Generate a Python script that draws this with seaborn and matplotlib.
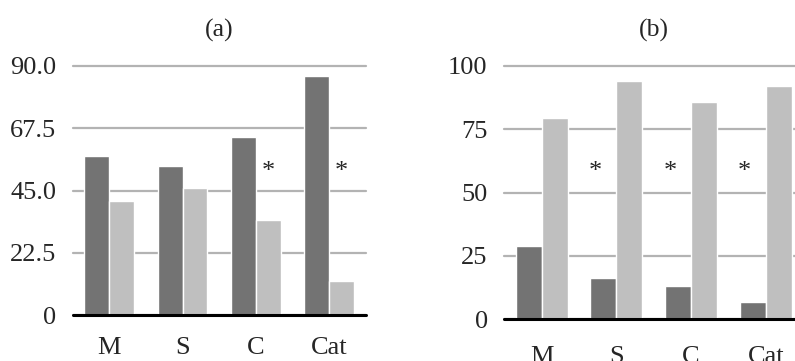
import numpy as np
import pandas as pd
import seaborn as sns
import matplotlib.pyplot as plt

# values
categories = ["M", "S", "C", "Cat"]
series_names = ["Series 1", "Series 2"]
a_dark = [57.5, 53.9, 64.3, 86.5]
a_light = [41.2, 45.8, 34.3, 12.4]
b_dark = [28.9, 16.3, 13.1, 6.8]
b_light = [79.5, 94.1, 85.8, 92.1]
a_ticks = [0, 22.5, 45.0, 67.5, 90.0]
a_ticklabels = ["0", "22.5", "45.0", "67.5", "90.0"]
b_ticks = [0, 25, 50, 75, 100]
b_ticklabels = ["0", "25", "50", "75", "100"]
a_stars = ["C", "Cat"]
b_stars = ["S", "C", "Cat"]

sns.set_theme(style="white")
plt.rcParams['font.family'] = ['Liberation Serif', 'DejaVu Serif']

colors = ["#737373", "#bfbfbf"]
grid_color = "#b3b3b3"


def long_form(dark, light):
    return pd.DataFrame({
        "cat": categories * 2,
        "series": [series_names[0]] * 4 + [series_names[1]] * 4,
        "value": dark + light,
    })


fig = plt.figure(figsize=(7.95, 3.61), dpi=100)
W, H = 795, 361
# axes placed in pixel units (left, bottom-edge y, width, height)
ax_a = fig.add_axes([72.7 / W, (H - 315) / H, 293 / W, 249 / H])
ax_b = fig.add_axes([504.3 / W, (H - 319.3) / H, 298.8 / W, 253.3 / H])

panels = [
    (ax_a, a_dark, a_light, a_ticks, a_ticklabels, 90, "(a)", 0.68, 15.5, a_stars, 0.17, 51.8),
    (ax_b, b_dark, b_light, b_ticks, b_ticklabels, 100, "(b)", 0.70, 19.5, b_stars, -0.28, 58.2),
]

for ax, dark, light, ticks, ticklabels, top, title, width, xpad, stars, star_dx, star_y in panels:
    df = long_form(dark, light)
    sns.barplot(data=df, x="cat", y="value", hue="series", palette=colors,
                width=width, saturation=1, ax=ax, legend=False)
    ax.set_ylim(0, top)
    ax.set_xlim(-0.5, 3.5)
    ax.set_yticks(ticks)
    ax.set_yticklabels(ticklabels)
    ax.set_xlabel("")
    ax.set_ylabel("")
    ax.set_title(title, fontsize=18.5, pad=21)
    ax.tick_params(axis="y", length=0, pad=12, labelsize=19)
    ax.tick_params(axis="x", length=0, pad=xpad, labelsize=19)
    for s in ax.spines.values():
        s.set_visible(False)
    ax.set_axisbelow(True)
    ax.yaxis.grid(True, color=grid_color, linewidth=1.6)
    for gl in ax.get_ygridlines():
        gl.set_clip_on(False)
    ax.axhline(0, color="black", linewidth=2.2, clip_on=False, zorder=5)
    for c in stars:
        ax.text(categories.index(c) + star_dx, star_y, "*", ha="center", va="center",
                fontsize=19)

fig.savefig("out.png", dpi=100)
